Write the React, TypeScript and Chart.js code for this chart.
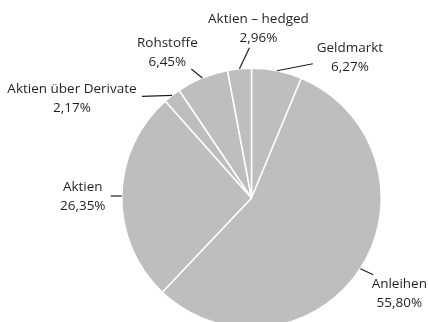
import React, { useEffect, useRef } from "react";
import { Chart, registerables } from "chart.js";

Chart.register(...registerables);

const categories = ["Geldmarkt", "Anleihen", "Aktien", "Aktien über Derivate", "Rohstoffe", "Aktien – hedged"];
const values = [6.27, 55.8, 26.35, 2.17, 6.45, 2.96];
const valueLabels = ["6,27%", "55,80%", "26,35%", "2,17%", "6,45%", "2,96%"];

// label layout: leader line end relative to arc anchor, text centre relative to line end
const lineEnd = [
  [36, -7],
  [13, 6],
  [-11, 0],
  [-30, 1],
  [-11, -9],
  [10, -21],
];
const textOffset = [
  [37, -6.5],
  [26, 18.5],
  [-28, 1],
  [-70, 2.5],
  [-24, -16.5],
  [9, -19],
];

const FONT = "13.5px 'Open Sans', sans-serif";

const labelPlugin = {
  id: "leaderLabels",
  afterDraw(chart: any) {
    const ctx = chart.ctx;
    const meta = chart.getDatasetMeta(0);
    ctx.save();
    meta.data.forEach((arc: any, i: number) => {
      const { x, y, startAngle, endAngle, outerRadius } = arc.getProps(
        ["x", "y", "startAngle", "endAngle", "outerRadius"],
        true
      );
      const mid = (startAngle + endAngle) / 2;
      const ax = x + Math.cos(mid) * outerRadius;
      const ay = y + Math.sin(mid) * outerRadius;
      const ex = ax + lineEnd[i][0];
      const ey = ay + lineEnd[i][1];
      ctx.strokeStyle = "#231f20";
      ctx.lineWidth = 1.2;
      ctx.beginPath();
      ctx.moveTo(ax, ay);
      ctx.lineTo(ex, ey);
      ctx.stroke();
      const tx = ex + textOffset[i][0];
      const ty = ey + textOffset[i][1];
      ctx.fillStyle = "#231f20";
      ctx.font = FONT;
      ctx.textAlign = "center";
      ctx.textBaseline = "middle";
      ctx.fillText(categories[i], tx, ty - 9.5);
      ctx.fillText(valueLabels[i], tx, ty + 9.5);
    });
    ctx.restore();
  },
};

export default function App() {
  const ref = useRef<HTMLCanvasElement | null>(null);
  useEffect(() => {
    if (!ref.current) return;
    const chart = new Chart(ref.current, {
      type: "pie",
      data: {
        labels: categories,
        datasets: [
          {
            data: values,
            backgroundColor: "#bcbec0",
            borderColor: "#ffffff",
            borderWidth: 1.5,
          },
        ],
      },
      options: {
        responsive: false,
        animation: false,
        events: [],
        layout: { padding: { left: 121, right: 46, top: 67.5, bottom: 1.5 } },
        plugins: {
          legend: { display: false },
          tooltip: { enabled: false },
        },
      },
      plugins: [labelPlugin],
    });
    return () => chart.destroy();
  }, []);
  return (
    <div
      style={{
        position: "absolute",
        left: 0,
        top: 0,
        width: 428,
        height: 322,
        overflow: "hidden",
        background: "#fff",
      }}
    >
      <canvas ref={ref} width={428} height={330} style={{ width: 428, height: 330, display: "block" }} />
    </div>
  );
}
